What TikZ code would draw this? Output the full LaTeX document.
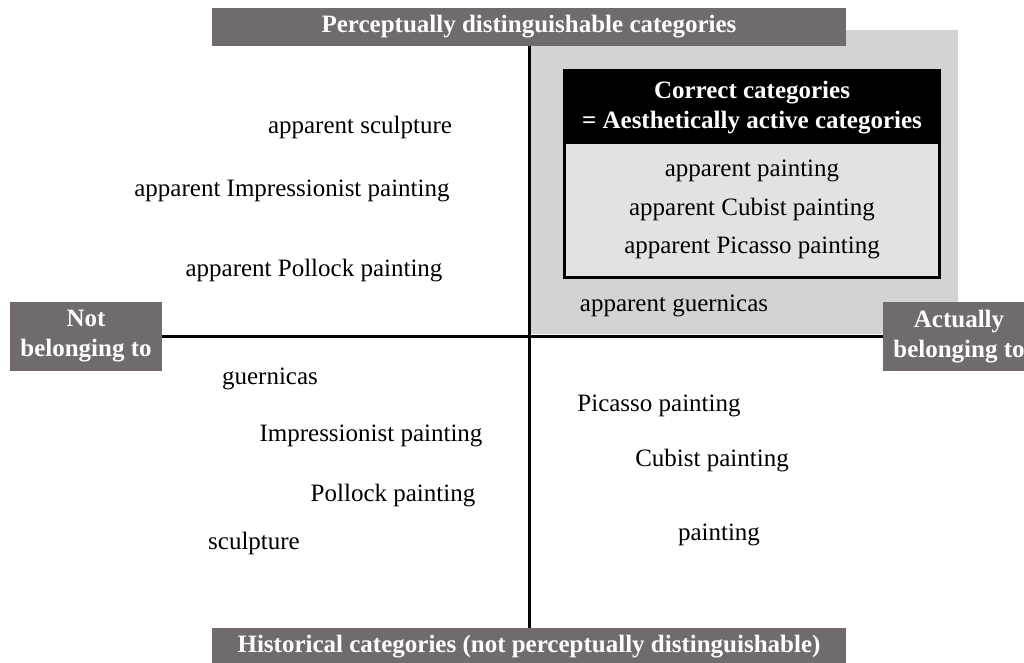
\documentclass[tikz,border=0pt]{standalone}
\usepackage{fontspec}
\setmainfont{Liberation Serif}
\usepackage{tikz}
\usetikzlibrary{positioning}

\definecolor{labelgray}{RGB}{113,108,107}
\definecolor{regiongray}{RGB}{211,211,211}
\definecolor{boxgray}{RGB}{226,226,226}

\tikzstyle{axislabel} = [rectangle, fill=labelgray, text=white, font=\fontsize{25}{30}\selectfont\bfseries, align=center, inner sep=0pt]
\tikzstyle{cat} = [inner sep=0pt, font=\fontsize{25}{30}\selectfont, yshift=-2.5pt]
\tikzstyle{axis} = [line width=3pt]

\begin{document}
\begin{tikzpicture}[x=1pt, y=-1pt]
\useasboundingbox (0,0) rectangle (1024,663);

% Shaded quadrant
\fill[regiongray] (530,30) rectangle (958,334);

% Axis labels
\node[axislabel, minimum width=634, minimum height=38] (percept) at (529,27) {\raisebox{-2pt}{Perceptually distinguishable categories}};
\node[axislabel, minimum width=634, minimum height=38] (hist) at (529,647) {\raisebox{-3pt}{Historical categories (not perceptually distinguishable)}};
\node[axislabel, minimum width=152, minimum height=69] (notbel) at (86,336.5) {Not\\belonging to};
\node[axislabel, minimum width=152, minimum height=69] (actbel) at (959,336.5) {Actually\\belonging to};

% Axes
\draw[axis] (percept) -- (hist);
\draw[axis] (notbel) -- (actbel);

% Correct categories box
\node[rectangle, fill=black, text=white, font=\fontsize{25}{30}\selectfont\bfseries, align=center, minimum width=374, minimum height=73, inner sep=0pt] (correct) at (752,107.5) {Correct categories\\= Aesthetically active categories};
\node[rectangle, fill=boxgray, minimum width=374, minimum height=133, inner sep=0pt, below=0pt of correct] (active) {};
\draw[line width=3pt] (correct.north west) rectangle (active.south east);
\node[cat] (apaint) at (752,168) {apparent painting};
\node[cat] (acubist) at (752,207) {apparent Cubist painting};
\node[cat] (apicasso) at (752,245) {apparent Picasso painting};

% Upper left
\node[cat] (asculpt) at (360,125) {apparent sculpture};
\node[cat] (aimpress) at (292,188) {apparent Impressionist painting};
\node[cat] (apollock) at (314,268) {apparent Pollock painting};
\node[cat] (aguern) at (674,303) {apparent guernicas};

% Lower half
\node[cat] (guern) at (270,376) {guernicas};
\node[cat] (impress) at (371,433) {Impressionist painting};
\node[cat] (pollock) at (393,493) {Pollock painting};
\node[cat] (sculpt) at (254,541) {sculpture};
\node[cat] (picasso) at (659,403) {Picasso painting};
\node[cat] (cubist) at (712,458) {Cubist painting};
\node[cat] (paint) at (719,532) {painting};

\end{tikzpicture}
\end{document}
